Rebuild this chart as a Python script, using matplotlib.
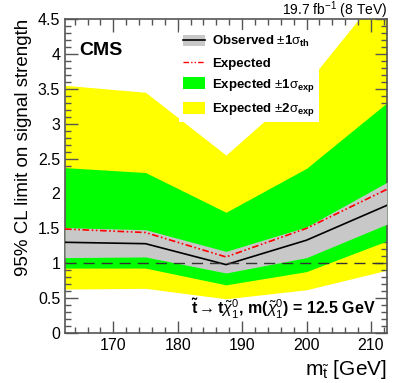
import matplotlib
matplotlib.use("Agg")
import matplotlib.pyplot as plt
from matplotlib.patches import Patch
from matplotlib.lines import Line2D
from matplotlib.ticker import MultipleLocator

plt.rcParams['font.family'] = ['Liberation Sans', 'DejaVu Sans']
plt.rcParams['mathtext.fontset'] = 'custom'
plt.rcParams['mathtext.rm'] = 'Liberation Sans'
plt.rcParams['mathtext.it'] = 'Liberation Sans:italic'
plt.rcParams['mathtext.bf'] = 'Liberation Sans:bold'
plt.rcParams['mathtext.sf'] = 'Liberation Sans'

# data
mass = [162.5, 175.0, 187.5, 200.0, 212.5]
observed = [1.30, 1.28, 0.98, 1.33, 1.83]
obs_up = [1.51, 1.48, 1.17, 1.52, 2.16]
obs_dn = [1.08, 1.09, 0.86, 1.08, 1.56]
expected = [1.49, 1.44, 1.09, 1.50, 2.06]
exp_1up = [2.37, 2.30, 1.73, 2.36, 3.30]
exp_1dn = [0.93, 0.93, 0.69, 0.88, 1.32]
exp_2up = [3.55, 3.45, 2.55, 3.57, 5.00]
exp_2dn = [0.63, 0.64, 0.49, 0.62, 0.90]

W, H = 399, 383
fig = plt.figure(figsize=(W/100, H/100), dpi=100)
ax = fig.add_axes([65/W, 1-333/H, (387-65)/W, (333-19)/H])

ax.fill_between(mass, exp_2dn, exp_2up, color='#ffff00', lw=0, zorder=1)
ax.fill_between(mass, exp_1dn, exp_1up, color='#00ff00', lw=0, zorder=2)
ax.fill_between(mass, obs_dn, obs_up, color='#c8c8c8', lw=0, zorder=3)
ax.plot(mass, expected, color='#ff0000', lw=1.2, ls=(0, (4, 1.5, 1, 1.5, 1, 1.5)), zorder=4)
ax.plot(mass, observed, color='black', lw=1.2, zorder=5)
ax.axhline(1.0, color='#333333', lw=1.0, ls=(0, (8, 5)), zorder=6)

ax.set_xlim(162.5, 212.5)
ax.set_ylim(0, 4.5)
ax.xaxis.set_major_locator(MultipleLocator(10))
ax.xaxis.set_minor_locator(MultipleLocator(2))
ax.yaxis.set_major_locator(MultipleLocator(0.5))
ax.yaxis.set_minor_locator(MultipleLocator(0.1))
ax.tick_params(which='both', direction='in', top=True, right=True, labelsize=11.5, color='#555555')
ax.tick_params(which='major', length=9, width=1)
ax.tick_params(which='minor', length=4.5, width=1)
ax.yaxis.set_major_formatter(matplotlib.ticker.FuncFormatter(lambda v, p: ('%g' % v)))
for s in ax.spines.values():
    s.set_color('#555555')
    s.set_linewidth(1.2)

ax.set_ylabel('95% CL limit on signal strength', fontsize=13.5, loc='top', labelpad=4)
ax.set_xlabel(r'm$_{\tilde{\mathrm{t}}}$ [GeV]', fontsize=15, loc='right', labelpad=4)

fig.text(387/W, 1-10/H, r'19.7 fb$^{-1}$ (8 TeV)', ha='right', va='center', fontsize=10)
ax.text(0.045, 0.90, 'CMS', transform=ax.transAxes, fontsize=14, fontweight='bold', va='center', ha='left')
ax.text(0.965, 0.075,
        r'$\mathbf{\tilde{t}}\rightarrow\mathbf{t}\tilde{\chi}^{0}_{1}$, m($\tilde{\chi}^{0}_{1}$) = 12.5 GeV',
        transform=ax.transAxes, fontsize=11.5, fontweight='bold', ha='right', va='center', zorder=10)

h_obs = (Patch(facecolor='#c8c8c8', edgecolor='none'), Line2D([], [], color='black', lw=1.2))
h_exp = Line2D([], [], color='#ff0000', lw=1.0, ls=(0, (4, 1.5, 1, 1.5, 1, 1.5)))
h_1s = Patch(facecolor='#00ff00', edgecolor='none')
h_2s = Patch(facecolor='#ffff00', edgecolor='none')
leg = ax.legend([h_obs, h_exp, h_1s, h_2s],
                [r'Observed $\pm$1$\mathrm{\sigma}_{\mathbf{th}}$', 'Expected',
                 r'Expected $\pm$1$\mathrm{\sigma}_{\mathbf{exp}}$', r'Expected $\pm$2$\mathrm{\sigma}_{\mathbf{exp}}$'],
                loc='upper left', bbox_to_anchor=(0.354, 0.965), frameon=True, fancybox=False,
                framealpha=1, facecolor='white', edgecolor='none', borderpad=0.3,
                prop={'weight': 'bold', 'size': 9.5}, handlelength=1.7, handleheight=1.0,
                labelspacing=0.55, handletextpad=0.5, borderaxespad=0)
leg.set_zorder(8)

fig.savefig('out.png', dpi=100)
